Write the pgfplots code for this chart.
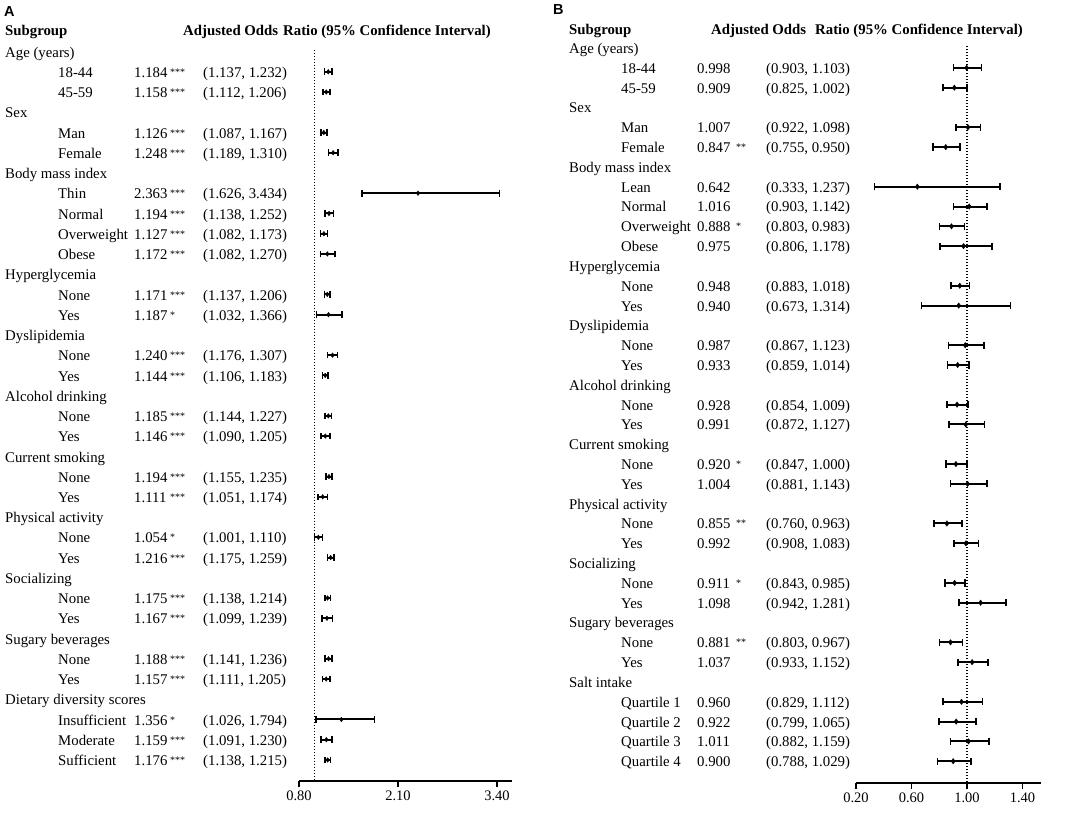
\documentclass[border=0pt]{standalone}
\usepackage{pgfplots}
\usepackage{pgfplotstable}
\pgfplotsset{compat=1.18}
\usepackage{fontspec}
\setmainfont{Liberation Serif}
\newfontfamily\labelfont{Liberation Sans}

\pgfplotstableread{
row or lo hi
1 1.184 1.137 1.232
2 1.158 1.112 1.206
4 1.126 1.087 1.167
5 1.248 1.189 1.310
7 2.363 1.626 3.434
8 1.194 1.138 1.252
9 1.127 1.082 1.173
10 1.172 1.082 1.270
12 1.171 1.137 1.206
13 1.187 1.032 1.366
15 1.240 1.176 1.307
16 1.144 1.106 1.183
18 1.185 1.144 1.227
19 1.146 1.090 1.205
21 1.194 1.155 1.235
22 1.111 1.051 1.174
24 1.054 1.001 1.110
25 1.216 1.175 1.259
27 1.175 1.138 1.214
28 1.167 1.099 1.239
30 1.188 1.141 1.236
31 1.157 1.111 1.205
33 1.356 1.026 1.794
34 1.159 1.091 1.230
35 1.176 1.138 1.215
}\dataA

\pgfplotstableread{
row or lo hi
1 0.998 0.903 1.103
2 0.909 0.825 1.002
4 1.007 0.922 1.098
5 0.847 0.755 0.950
7 0.642 0.333 1.237
8 1.016 0.903 1.142
9 0.888 0.803 0.983
10 0.975 0.806 1.178
12 0.948 0.883 1.018
13 0.940 0.673 1.314
15 0.987 0.867 1.123
16 0.933 0.859 1.014
18 0.928 0.854 1.009
19 0.991 0.872 1.127
21 0.920 0.847 1.000
22 1.004 0.881 1.143
24 0.855 0.760 0.963
25 0.992 0.908 1.083
27 0.911 0.843 0.985
28 1.098 0.942 1.281
30 0.881 0.803 0.967
31 1.037 0.933 1.152
33 0.960 0.829 1.112
34 0.922 0.799 1.065
35 1.011 0.882 1.159
36 0.900 0.788 1.029
}\dataB

\tikzset{
  T/.style={anchor=base west, inner sep=0pt, font=\fontsize{14.8}{17}\selectfont},
  TB/.style={anchor=base west, inner sep=0pt, font=\fontsize{14.8}{17}\selectfont\bfseries},
  S/.style={anchor=base west, inner sep=0pt, font=\fontsize{10}{12}\selectfont, yshift=2pt},
}
% panel A rows
\newcommand\catA[2]{\node[T] at (5,{-(57.2+#1*20.24)}) {#2};}
\newcommand\rowA[5]{%
  \node[T] at (58,{-(57.2+#1*20.24)}) {#2};
  \node[T] at (134,{-(57.2+#1*20.24)}) {#3};
  \node[S] at (170,{-(57.2+#1*20.24)}) {#4};
  \node[T] at (203,{-(57.2+#1*20.24)}) {#5};}
% panel B rows
\newcommand\catB[2]{\node[T] at (569,{-(53.5+#1*19.81)}) {#2};}
\newcommand\rowB[5]{%
  \node[T] at (621,{-(53.5+#1*19.81)}) {#2};
  \node[T] at (697,{-(53.5+#1*19.81)}) {#3};
  \node[S] at (736,{-(53.5+#1*19.81)}) {#4};
  \node[T] at (766,{-(53.5+#1*19.81)}) {#5};}

\pgfplotsset{
  forest/.style={
    axis x line*=bottom, axis y line=none,
    clip=false, enlargelimits=false,
    tick align=outside, major tick length=6pt,
    ytick=\empty,
    axis line style={line width=2pt, black},
    x tick style={line width=1.6pt, black},
    xticklabel style={font=\fontsize{14.5}{16}\selectfont, inner sep=3.5pt},
  },
}

\begin{document}
\begin{tikzpicture}[x=1pt,y=1pt]
\path[use as bounding box] (0,0) rectangle (1084,-813);

% ---------------- Panel A ----------------
\begin{axis}[forest,
  at={(299pt,-781pt)}, anchor=south west,
  x=76.15pt, y=20.24pt,
  xmin=0.8, xmax=3.6, ymin=-36.04, ymax=1,
  xtick={0.8,2.1,3.4}, xticklabels={0.80,2.10,3.40},
]
\addplot[black, line width=1.4pt, dash pattern=on 1.4pt off 1.6pt] coordinates {(1,0.1) (1,-36.04)};
\addplot[black, only marks, mark=diamond*, mark size=2.3pt,
  error bars/.cd, x dir=both, x explicit, error mark=|,
  error bar style={line width=2pt, black},
  error mark options={line width=1.6pt, mark size=3.3pt, black}]
  table[x=or, y expr=-\thisrow{row},
        x error plus expr=\thisrow{hi}-\thisrow{or},
        x error minus expr=\thisrow{or}-\thisrow{lo}] {\dataA};
\end{axis}

\node[anchor=base west, inner sep=0pt, font=\labelfont\fontsize{14.5}{16}\selectfont\bfseries] at (4,-17) {A};
\node[TB] at (5,-35.7) {Subgroup};
\node[TB] at (183,-35.7) {Adjusted Odds};
\node[TB] at (283,-35.7) {Ratio (95\% Confidence Interval)};
\catA{0}{Age (years)}
\rowA{1}{18-44}{1.184}{***}{(1.137, 1.232)}
\rowA{2}{45-59}{1.158}{***}{(1.112, 1.206)}
\catA{3}{Sex}
\rowA{4}{Man}{1.126}{***}{(1.087, 1.167)}
\rowA{5}{Female}{1.248}{***}{(1.189, 1.310)}
\catA{6}{Body mass index}
\rowA{7}{Thin}{2.363}{***}{(1.626, 3.434)}
\rowA{8}{Normal}{1.194}{***}{(1.138, 1.252)}
\rowA{9}{Overweight}{1.127}{***}{(1.082, 1.173)}
\rowA{10}{Obese}{1.172}{***}{(1.082, 1.270)}
\catA{11}{Hyperglycemia}
\rowA{12}{None}{1.171}{***}{(1.137, 1.206)}
\rowA{13}{Yes}{1.187}{*}{(1.032, 1.366)}
\catA{14}{Dyslipidemia}
\rowA{15}{None}{1.240}{***}{(1.176, 1.307)}
\rowA{16}{Yes}{1.144}{***}{(1.106, 1.183)}
\catA{17}{Alcohol drinking}
\rowA{18}{None}{1.185}{***}{(1.144, 1.227)}
\rowA{19}{Yes}{1.146}{***}{(1.090, 1.205)}
\catA{20}{Current smoking}
\rowA{21}{None}{1.194}{***}{(1.155, 1.235)}
\rowA{22}{Yes}{1.111}{***}{(1.051, 1.174)}
\catA{23}{Physical activity}
\rowA{24}{None}{1.054}{*}{(1.001, 1.110)}
\rowA{25}{Yes}{1.216}{***}{(1.175, 1.259)}
\catA{26}{Socializing}
\rowA{27}{None}{1.175}{***}{(1.138, 1.214)}
\rowA{28}{Yes}{1.167}{***}{(1.099, 1.239)}
\catA{29}{Sugary beverages}
\rowA{30}{None}{1.188}{***}{(1.141, 1.236)}
\rowA{31}{Yes}{1.157}{***}{(1.111, 1.205)}
\catA{32}{Dietary diversity scores}
\rowA{33}{Insufficient}{1.356}{*}{(1.026, 1.794)}
\rowA{34}{Moderate}{1.159}{***}{(1.091, 1.230)}
\rowA{35}{Sufficient}{1.176}{***}{(1.138, 1.215)}

% ---------------- Panel B ----------------
\begin{axis}[forest,
  at={(856pt,-783pt)}, anchor=south west,
  x=138.75pt, y=19.81pt,
  xmin=0.2, xmax=1.53, ymin=-37.1, ymax=1,
  xtick={0.2,0.6,1.0,1.4}, xticklabels={0.20,0.60,1.00,1.40},
]
\addplot[black, line width=1.4pt, dash pattern=on 1.4pt off 1.6pt] coordinates {(1,0.1) (1,-37.1)};
\addplot[black, only marks, mark=diamond*, mark size=2.7pt,
  error bars/.cd, x dir=both, x explicit, error mark=|,
  error bar style={line width=2pt, black},
  error mark options={line width=1.6pt, mark size=3.6pt, black}]
  table[x=or, y expr=-\thisrow{row},
        x error plus expr=\thisrow{hi}-\thisrow{or},
        x error minus expr=\thisrow{or}-\thisrow{lo}] {\dataB};
\end{axis}

\node[anchor=base west, inner sep=0pt, font=\labelfont\fontsize{14.5}{16}\selectfont\bfseries] at (553,-15) {B};
\node[TB] at (569,-34.3) {Subgroup};
\node[TB] at (711,-34.3) {Adjusted Odds};
\node[TB] at (815,-34.3) {Ratio (95\% Confidence Interval)};
\catB{0}{Age (years)}
\rowB{1}{18-44}{0.998}{}{(0.903, 1.103)}
\rowB{2}{45-59}{0.909}{}{(0.825, 1.002)}
\catB{3}{Sex}
\rowB{4}{Man}{1.007}{}{(0.922, 1.098)}
\rowB{5}{Female}{0.847}{**}{(0.755, 0.950)}
\catB{6}{Body mass index}
\rowB{7}{Lean}{0.642}{}{(0.333, 1.237)}
\rowB{8}{Normal}{1.016}{}{(0.903, 1.142)}
\rowB{9}{Overweight}{0.888}{*}{(0.803, 0.983)}
\rowB{10}{Obese}{0.975}{}{(0.806, 1.178)}
\catB{11}{Hyperglycemia}
\rowB{12}{None}{0.948}{}{(0.883, 1.018)}
\rowB{13}{Yes}{0.940}{}{(0.673, 1.314)}
\catB{14}{Dyslipidemia}
\rowB{15}{None}{0.987}{}{(0.867, 1.123)}
\rowB{16}{Yes}{0.933}{}{(0.859, 1.014)}
\catB{17}{Alcohol drinking}
\rowB{18}{None}{0.928}{}{(0.854, 1.009)}
\rowB{19}{Yes}{0.991}{}{(0.872, 1.127)}
\catB{20}{Current smoking}
\rowB{21}{None}{0.920}{*}{(0.847, 1.000)}
\rowB{22}{Yes}{1.004}{}{(0.881, 1.143)}
\catB{23}{Physical activity}
\rowB{24}{None}{0.855}{**}{(0.760, 0.963)}
\rowB{25}{Yes}{0.992}{}{(0.908, 1.083)}
\catB{26}{Socializing}
\rowB{27}{None}{0.911}{*}{(0.843, 0.985)}
\rowB{28}{Yes}{1.098}{}{(0.942, 1.281)}
\catB{29}{Sugary beverages}
\rowB{30}{None}{0.881}{**}{(0.803, 0.967)}
\rowB{31}{Yes}{1.037}{}{(0.933, 1.152)}
\catB{32}{Salt intake}
\rowB{33}{Quartile 1}{0.960}{}{(0.829, 1.112)}
\rowB{34}{Quartile 2}{0.922}{}{(0.799, 1.065)}
\rowB{35}{Quartile 3}{1.011}{}{(0.882, 1.159)}
\rowB{36}{Quartile 4}{0.900}{}{(0.788, 1.029)}
\end{tikzpicture}
\end{document}
